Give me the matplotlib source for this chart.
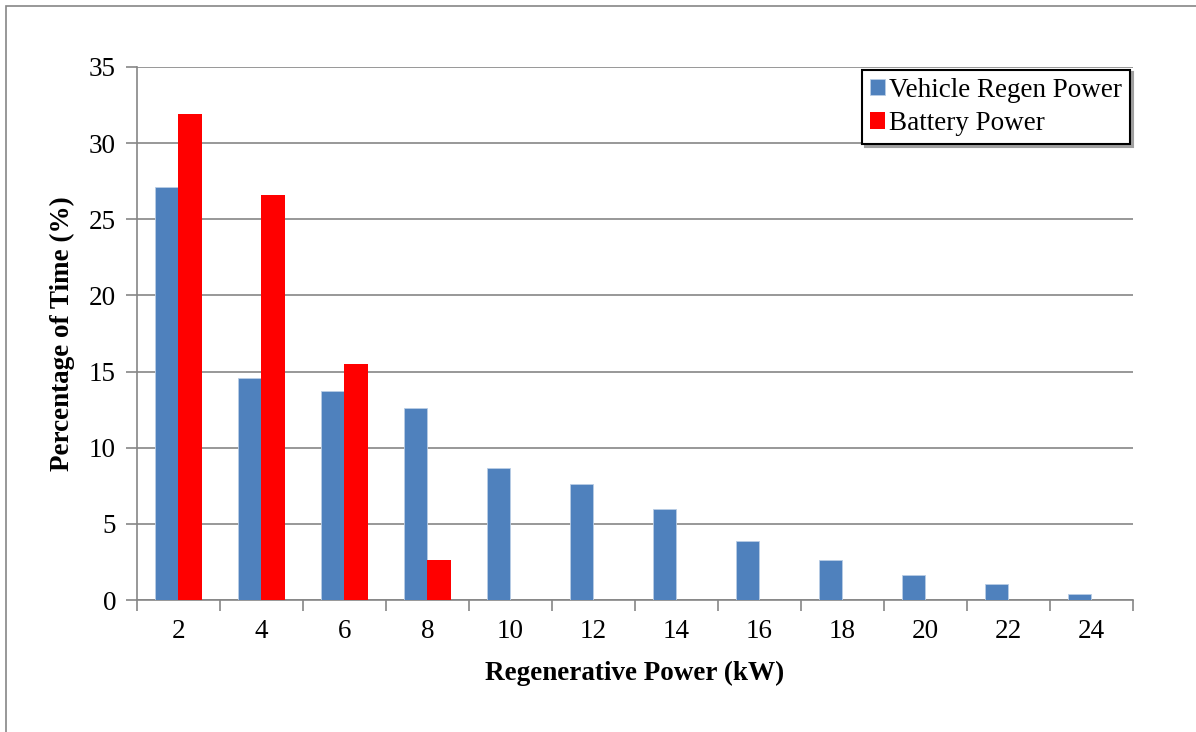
import numpy as np
import matplotlib.pyplot as plt
from matplotlib.patches import Rectangle

power_kw = [2, 4, 6, 8, 10, 12, 14, 16, 18, 20, 22, 24]
vehicle_regen = [27.1, 14.6, 13.7, 12.6, 8.7, 7.65, 6.0, 3.85, 2.6, 1.65, 1.05, 0.38]
battery = [31.9, 26.6, 15.5, 2.65, 0, 0, 0, 0, 0, 0, 0, 0]

plt.rcParams["font.family"] = ["Liberation Serif", "DejaVu Serif"]

fig = plt.figure(figsize=(11.96, 7.32), dpi=100)
ax = fig.add_axes([0.1145, 0.1803, 0.8328, 0.7282])

x = np.arange(len(power_kw))
w = 0.285
ax.bar(x - w / 2, vehicle_regen, w, color="#4F81BD", edgecolor="#B9CDE5", linewidth=0.6,
       label="Vehicle Regen Power", zorder=3)
ax.bar(x + w / 2, battery, w, color="#FF0000", edgecolor="#FF0000", linewidth=0,
       label="Battery Power", zorder=3)

ax.set_xlim(-0.5, len(power_kw) - 0.5)
ax.set_ylim(0, 35)
ax.set_yticks(range(0, 36, 5))
ax.yaxis.grid(True, color="#868686", linewidth=1.2, zorder=0)

ax.set_xticks(np.arange(-0.5, len(power_kw), 1))
ax.set_xticklabels([])
ax.set_xticks(x, minor=True)
ax.set_xticklabels([str(p) for p in power_kw], minor=True)
ax.tick_params(axis="x", which="major", length=8, width=1.2, color="#868686", direction="out")
ax.tick_params(axis="x", which="minor", length=0, labelsize=19.5, pad=14)
ax.tick_params(axis="y", length=8, width=1.2, color="#868686", labelsize=19.5, pad=7)

for s in ["top", "right"]:
    ax.spines[s].set_visible(False)
for s in ["left", "bottom"]:
    ax.spines[s].set_color("#868686")
    ax.spines[s].set_linewidth(1.2)

ax.set_xlabel("Regenerative Power (kW)", fontsize=19.5, fontweight="bold", labelpad=12)
ax.set_ylabel("Percentage of Time (%)", fontsize=19.5, fontweight="bold", labelpad=10)

leg = ax.legend(loc="upper right", bbox_to_anchor=(1.0, 1.0), fontsize=19.5, frameon=True,
                fancybox=False, shadow={"color": "#A0A0A0", "alpha": 1},
                handlelength=0.55, handleheight=0.55, handletextpad=0.15,
                borderpad=0.3, labelspacing=0.3, borderaxespad=0.1)
leg.get_frame().set_edgecolor("black")
leg.get_frame().set_linewidth(1.5)

fig.patches.append(Rectangle((6 / 1196, -0.1), 1.2, 1 - 6 / 732 + 0.1, transform=fig.transFigure,
                             fill=False, edgecolor="#868686", linewidth=1.2))

fig.savefig("out.png", dpi=100)
